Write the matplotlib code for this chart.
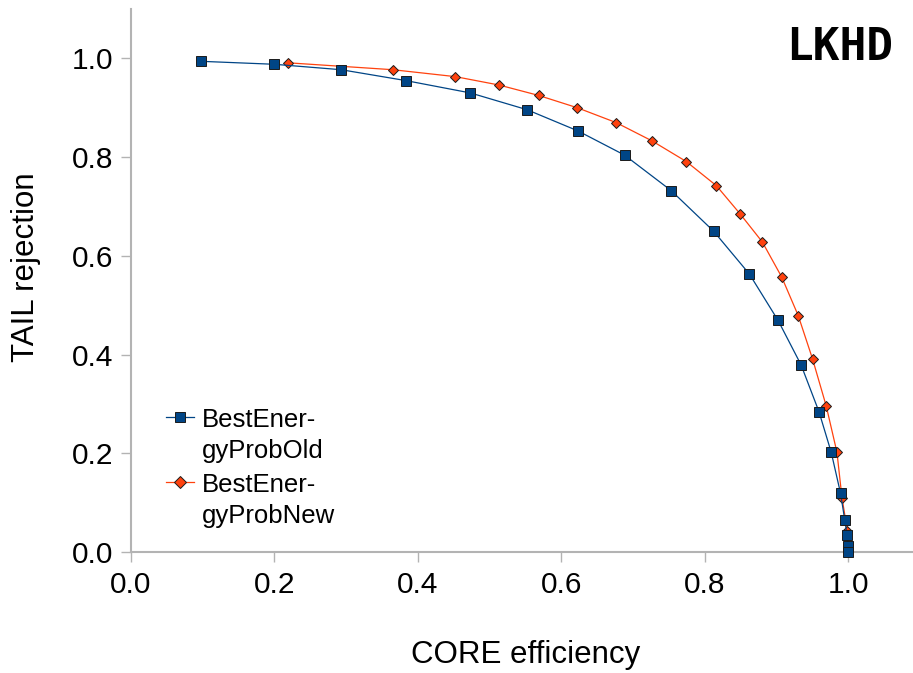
import matplotlib.pyplot as plt

# ROC-style curves: CORE efficiency vs TAIL rejection
old_eff = [0.098, 0.200, 0.293, 0.383, 0.473, 0.552, 0.623, 0.688, 0.753, 0.812,
           0.862, 0.902, 0.934, 0.959, 0.976, 0.989, 0.995, 0.998, 0.9996, 1.000]
old_rej = [0.994, 0.988, 0.977, 0.955, 0.930, 0.896, 0.853, 0.804, 0.732, 0.650,
           0.563, 0.469, 0.379, 0.284, 0.202, 0.119, 0.064, 0.034, 0.012, 0.000]

new_eff = [0.219, 0.365, 0.452, 0.513, 0.568, 0.622, 0.676, 0.726, 0.774, 0.816,
           0.849, 0.880, 0.907, 0.930, 0.950, 0.969, 0.984, 0.991, 0.9986, 1.000]
new_rej = [0.991, 0.977, 0.963, 0.946, 0.925, 0.900, 0.870, 0.833, 0.791, 0.742,
           0.685, 0.628, 0.557, 0.479, 0.391, 0.296, 0.202, 0.110, 0.043, 0.000]

x_ticks = [0.0, 0.2, 0.4, 0.6, 0.8, 1.0]
y_ticks = [0.0, 0.2, 0.4, 0.6, 0.8, 1.0]

plt.rcParams['font.family'] = ['Liberation Sans', 'DejaVu Sans']
axis_grey = '#b3b3b3'

fig = plt.figure(figsize=(9.13, 6.73), dpi=100)
ax = fig.add_axes([131 / 913, 121 / 673, 782 / 913, 543 / 673])

ax.plot(old_eff, old_rej, color='#004586', lw=0.9, marker='s', ms=6.5,
        mfc='#004586', mec='#1a1a1a', mew=0.7, label='BestEner-\ngyProbOld',
        clip_on=False, zorder=3)
ax.plot(new_eff, new_rej, color='#ff420e', lw=0.9, marker='D', ms=4.8,
        mfc='#ff420e', mec='#1a1a1a', mew=0.7, label='BestEner-\ngyProbNew',
        clip_on=False, zorder=2.9)

ax.set_xlim(0, 1.09)
ax.set_ylim(0, 1.1)
ax.set_xticks(x_ticks)
ax.set_yticks(y_ticks)
ax.set_xticklabels([f'{v:.1f}' for v in x_ticks])
ax.set_yticklabels([f'{v:.1f}' for v in y_ticks])
ax.tick_params(axis='both', direction='out', length=7, width=1, color=axis_grey,
               labelsize=21.5, labelcolor='black')
ax.tick_params(axis='x', pad=7)
ax.tick_params(axis='y', pad=6)

for side in ['top', 'right']:
    ax.spines[side].set_visible(False)
for side in ['left', 'bottom']:
    ax.spines[side].set_color(axis_grey)
    ax.spines[side].set_linewidth(1.5)

ax.set_xlabel('CORE efficiency', fontsize=22.5)
ax.set_ylabel('TAIL rejection', fontsize=22.5)
ax.xaxis.label.set_va('center')
ax.xaxis.set_label_coords(0.504, -0.19)
ax.yaxis.label.set_va('center')
ax.yaxis.set_label_coords(-0.134, 0.525)

leg = ax.legend(loc='upper left', bbox_to_anchor=(0.045, 0.265), frameon=False,
                fontsize=18.5, borderpad=0, borderaxespad=0, handlelength=1.1,
                handletextpad=0.3, labelspacing=0.4, markerscale=1.2)
for txt in leg.get_texts():
    txt.set_linespacing(1.35)
# put the marker beside the first line of each two-line label
for column in leg._legend_handle_box.get_children():
    for row in column.get_children():
        row.align = 'top'

ax.text(0.975, 0.93, 'LKHD', transform=ax.transAxes, ha='right', va='center',
        fontsize=32, fontweight='bold', family='DejaVu Sans Mono')

fig.savefig('out.png', dpi=100)
